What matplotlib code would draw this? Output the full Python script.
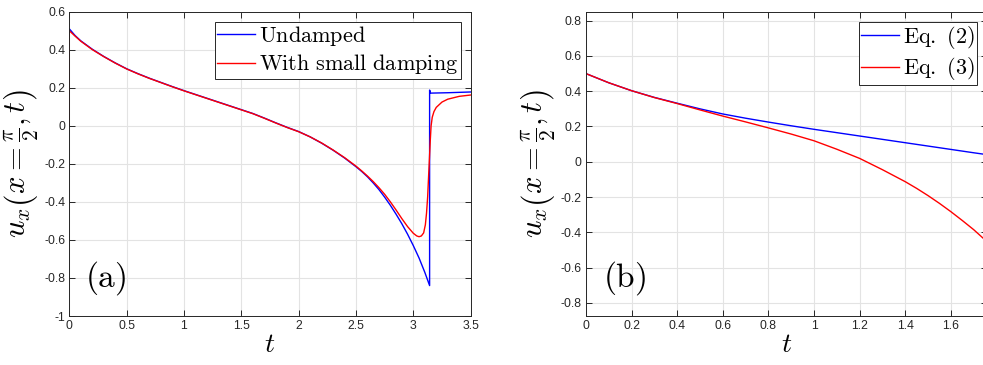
import matplotlib
matplotlib.use("Agg")
import matplotlib.pyplot as plt
from matplotlib.ticker import FuncFormatter

plt.rcParams['mathtext.fontset'] = 'cm'
plt.rcParams['axes.unicode_minus'] = False
plt.rcParams['font.family'] = 'Liberation Sans'

# panel (a): undamped vs small damping
t_undamped = [0, 0, 0.05, 0.1, 0.2, 0.3, 0.4, 0.5, 0.6, 0.7, 0.8, 0.9, 1.0, 1.1, 1.2, 1.3,
              1.4, 1.5, 1.6, 1.7, 1.8, 1.9, 2.0, 2.1, 2.2, 2.3, 2.4, 2.5, 2.55, 2.6, 2.65,
              2.7, 2.75, 2.8, 2.85, 2.9, 2.95, 3.0, 3.05, 3.1, 3.142, 3.142, 3.15, 3.3, 3.5]
u_undamped = [0, 0.51, 0.475, 0.447, 0.403, 0.365, 0.331, 0.300, 0.274, 0.250, 0.228, 0.206,
              0.185, 0.165, 0.145, 0.125, 0.105, 0.085, 0.065, 0.041, 0.016, -0.008, -0.030,
              -0.058, -0.091, -0.128, -0.169, -0.215, -0.240, -0.268, -0.300, -0.335, -0.375,
              -0.418, -0.465, -0.515, -0.570, -0.630, -0.695, -0.770, -0.840, 0.188, 0.172,
              0.174, 0.178]

t_damped = [0, 0, 0.05, 0.1, 0.2, 0.3, 0.4, 0.5, 0.6, 0.7, 0.8, 0.9, 1.0, 1.1, 1.2, 1.3,
            1.4, 1.5, 1.6, 1.7, 1.8, 1.9, 2.0, 2.1, 2.2, 2.3, 2.4, 2.5, 2.55, 2.6, 2.65,
            2.7, 2.75, 2.8, 2.85, 2.9, 2.95, 3.0, 3.03, 3.05, 3.07, 3.09, 3.105, 3.115,
            3.125, 3.137, 3.148, 3.155, 3.165, 3.18, 3.2, 3.25, 3.3, 3.4, 3.5]
u_damped = [0, 0.50, 0.472, 0.445, 0.401, 0.364, 0.330, 0.299, 0.273, 0.249, 0.227, 0.205,
            0.184, 0.164, 0.144, 0.124, 0.104, 0.084, 0.064, 0.040, 0.015, -0.009, -0.031,
            -0.058, -0.090, -0.127, -0.167, -0.212, -0.237, -0.264, -0.293, -0.325, -0.360,
            -0.400, -0.443, -0.488, -0.530, -0.565, -0.579, -0.583, -0.579, -0.563, -0.520,
            -0.460, -0.373, -0.215, -0.075, 0.000, 0.045, 0.075, 0.097, 0.125, 0.140,
            0.155, 0.162]

# panel (b): Eq. (2) vs Eq. (3)
t_eq2 = [0, 0, 0.1, 0.2, 0.3, 0.4, 0.5, 0.6, 0.7, 0.8, 0.9, 1.0, 1.1, 1.2, 1.3, 1.4, 1.5,
         1.6, 1.7, 1.76]
u_eq2 = [0, 0.50, 0.448, 0.403, 0.365, 0.332, 0.300, 0.271, 0.247, 0.225, 0.204, 0.184,
         0.165, 0.146, 0.127, 0.108, 0.089, 0.070, 0.051, 0.040]

t_eq3 = [0, 0.1, 0.2, 0.3, 0.4, 0.5, 0.6, 0.7, 0.8, 0.9, 1.0, 1.1, 1.2, 1.3, 1.4, 1.45,
         1.5, 1.55, 1.6, 1.65, 1.7, 1.76]
u_eq3 = [0.50, 0.448, 0.403, 0.364, 0.330, 0.294, 0.259, 0.226, 0.192, 0.157, 0.119, 0.071,
         0.019, -0.045, -0.113, -0.151, -0.192, -0.236, -0.283, -0.333, -0.385, -0.455]

grey = '#262626'
fmt = FuncFormatter(lambda v, p: '%g' % round(v, 6))

fig = plt.figure(figsize=(9.83, 3.65), dpi=100)
ax1 = fig.add_axes([0.0705, 0.1342, 0.4083, 0.8337])
ax2 = fig.add_axes([0.5961, 0.1342, 0.4083, 0.8337])


def style(ax):
    ax.grid(True, color='#e3e3e3', lw=0.8)
    ax.set_axisbelow(True)
    for s in ax.spines.values():
        s.set_color(grey)
        s.set_linewidth(0.7)
    ax.tick_params(direction='in', length=4, width=0.7, colors=grey, labelsize=8.8,
                   top=True, right=True, pad=3)
    ax.xaxis.set_major_formatter(fmt)
    ax.yaxis.set_major_formatter(fmt)
    ax.set_xlabel(r'$t$', fontsize=20, labelpad=0)
    ax.set_ylabel(r'$u_x\left(x=\frac{\pi}{2},t\right)$', fontsize=22, labelpad=2)


ax1.plot(t_undamped, u_undamped, color='blue', lw=1.0, label=r'$\mathrm{Undamped}$')
ax1.plot(t_damped, u_damped, color='red', lw=1.0, label=r'$\mathrm{With\ small\ damping}$')
ax1.set_xlim(0, 3.5)
ax1.set_ylim(-1, 0.6)
ax1.set_xticks([0, 0.5, 1, 1.5, 2, 2.5, 3, 3.5])
ax1.set_yticks([-1, -0.8, -0.6, -0.4, -0.2, 0, 0.2, 0.4, 0.6])
style(ax1)
ax1.text(0.14, -0.8, r'$\mathrm{(a)}$', fontsize=24, va='center')

ax2.plot(t_eq2, u_eq2, color='blue', lw=1.0, label=r'$\mathrm{Eq.\ (2)}$')
ax2.plot(t_eq3, u_eq3, color='red', lw=1.0, label=r'$\mathrm{Eq.\ (3)}$')
ax2.set_xlim(0, 1.76)
ax2.set_ylim(-0.875, 0.851)
ax2.set_xticks([0, 0.2, 0.4, 0.6, 0.8, 1, 1.2, 1.4, 1.6])
ax2.set_yticks([-0.8, -0.6, -0.4, -0.2, 0, 0.2, 0.4, 0.6, 0.8])
style(ax2)
ax2.text(0.075, -0.66, r'$\mathrm{(b)}$', fontsize=24, va='center')

for ax in (ax1, ax2):
    leg = ax.legend(loc='upper right', fontsize=16, frameon=True, fancybox=False,
                    edgecolor=grey, framealpha=1, handlelength=1.7, handletextpad=0.2,
                    borderpad=0.1, labelspacing=0.2, borderaxespad=0.45)
    leg.get_frame().set_linewidth(0.7)

fig.savefig('out.png', dpi=100)
